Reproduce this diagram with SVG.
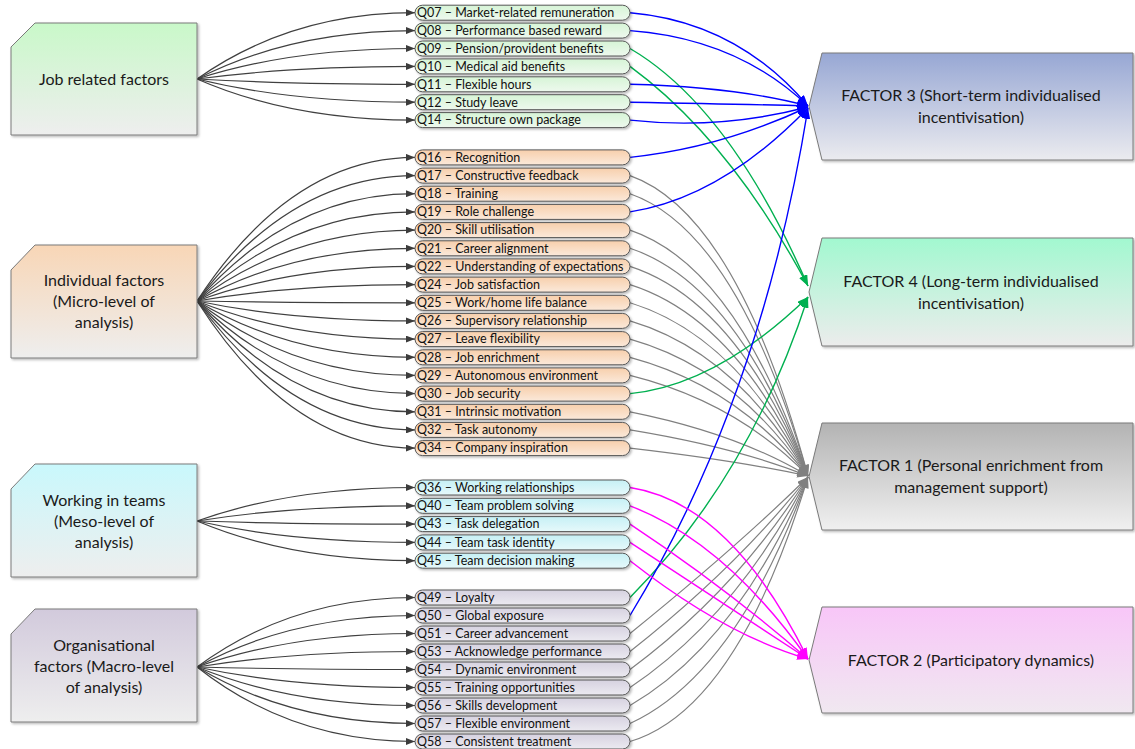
<svg xmlns="http://www.w3.org/2000/svg" width="1135" height="749" viewBox="0 0 1135 749">
<defs>
  <linearGradient id="gJob" x1="0" y1="0" x2="0" y2="1"><stop offset="0" stop-color="#c9f8c9"/><stop offset="1" stop-color="#eeeeee"/></linearGradient>
  <linearGradient id="gInd" x1="0" y1="0" x2="0" y2="1"><stop offset="0" stop-color="#f8d6b6"/><stop offset="1" stop-color="#eeeeee"/></linearGradient>
  <linearGradient id="gTeam" x1="0" y1="0" x2="0" y2="1"><stop offset="0" stop-color="#c9f8fc"/><stop offset="1" stop-color="#eeeeee"/></linearGradient>
  <linearGradient id="gOrg" x1="0" y1="0" x2="0" y2="1"><stop offset="0" stop-color="#d2cadc"/><stop offset="1" stop-color="#eeeeee"/></linearGradient>
  <linearGradient id="pJob" x1="0" y1="0" x2="0" y2="1"><stop offset="0" stop-color="#d6f4d6"/><stop offset="1" stop-color="#eef9ee"/></linearGradient>
  <linearGradient id="pInd" x1="0" y1="0" x2="0" y2="1"><stop offset="0" stop-color="#f7cfac"/><stop offset="1" stop-color="#fbe9da"/></linearGradient>
  <linearGradient id="pTeam" x1="0" y1="0" x2="0" y2="1"><stop offset="0" stop-color="#c6f0f5"/><stop offset="1" stop-color="#e6f9fb"/></linearGradient>
  <linearGradient id="pOrg" x1="0" y1="0" x2="0" y2="1"><stop offset="0" stop-color="#d6d2e0"/><stop offset="1" stop-color="#eceaf1"/></linearGradient>
  <linearGradient id="gF3" x1="0" y1="0" x2="0" y2="1"><stop offset="0" stop-color="#97a7d4"/><stop offset="1" stop-color="#ebebef"/></linearGradient>
  <linearGradient id="gF4" x1="0" y1="0" x2="0" y2="1"><stop offset="0" stop-color="#a2f8d0"/><stop offset="1" stop-color="#ececec"/></linearGradient>
  <linearGradient id="gF1" x1="0" y1="0" x2="0" y2="1"><stop offset="0" stop-color="#b3b3b3"/><stop offset="1" stop-color="#f0f0f0"/></linearGradient>
  <linearGradient id="gF2" x1="0" y1="0" x2="0" y2="1"><stop offset="0" stop-color="#f8c6f8"/><stop offset="1" stop-color="#f0e8f0"/></linearGradient>
  <filter id="sh" x="-5%" y="-20%" width="115%" height="150%">
    <feDropShadow dx="1.5" dy="1.5" stdDeviation="0.8" flood-color="#000" flood-opacity="0.28"/>
  </filter>
  <marker id="mk" markerWidth="9" markerHeight="7" refX="9" refY="3.5" orient="auto" markerUnits="userSpaceOnUse"><path d="M0,0 L9,3.5 L0,7 Z" fill="#3c3c3c"/></marker>
  <marker id="mb" markerWidth="11" markerHeight="8" refX="11" refY="4" orient="auto" markerUnits="userSpaceOnUse"><path d="M0,0 L11,4 L0,8 Z" fill="#0000ff"/></marker>
  <marker id="mg" markerWidth="11" markerHeight="8" refX="11" refY="4" orient="auto" markerUnits="userSpaceOnUse"><path d="M0,0 L11,4 L0,8 Z" fill="#00b050"/></marker>
  <marker id="mr" markerWidth="11" markerHeight="8" refX="11" refY="4" orient="auto" markerUnits="userSpaceOnUse"><path d="M0,0 L11,4 L0,8 Z" fill="#808080"/></marker>
  <marker id="mm" markerWidth="11" markerHeight="8" refX="11" refY="4" orient="auto" markerUnits="userSpaceOnUse"><path d="M0,0 L11,4 L0,8 Z" fill="#ff00ff"/></marker>
</defs>
<style>
  .box{stroke:#7a7a7a;stroke-width:1;filter:url(#sh)}
  .pill{stroke:#575757;stroke-width:1;filter:url(#sh)}
  .qt{font-family:Lato,"Liberation Sans",sans-serif;font-size:12.5px;fill:#111}
  .ct{font-family:Lato,"Liberation Sans",sans-serif;font-size:16px;fill:#1a1a1a;text-anchor:middle}
  .lc{fill:none;stroke:#404040;stroke-width:1.2;marker-end:url(#mk)}
  .cb{fill:none;stroke:#0000ff;stroke-width:1.4;marker-end:url(#mb)}
  .cg{fill:none;stroke:#00b050;stroke-width:1.4;marker-end:url(#mg)}
  .cr{fill:none;stroke:#808080;stroke-width:1.2;marker-end:url(#mr)}
  .cm{fill:none;stroke:#ff00ff;stroke-width:1.4;marker-end:url(#mm)}
</style>

<g id="connectors">
  <!-- category boxes to questionnaire items -->
  <path class="lc" d="M197,79 Q291,12.7 415,12.7"/>
  <path class="lc" d="M197,79 Q291,30.6 415,30.6"/>
  <path class="lc" d="M197,79 Q291,48.5 415,48.5"/>
  <path class="lc" d="M197,79 Q291,66.4 415,66.4"/>
  <path class="lc" d="M197,79 Q291,84.3 415,84.3"/>
  <path class="lc" d="M197,79 Q291,102.2 415,102.2"/>
  <path class="lc" d="M197,79 Q291,120.1 415,120.1"/>

  <path class="lc" d="M197,301 Q291,157.4 415,157.4"/>
  <path class="lc" d="M197,301 Q291,175.6 415,175.6"/>
  <path class="lc" d="M197,301 Q291,193.7 415,193.7"/>
  <path class="lc" d="M197,301 Q291,211.9 415,211.9"/>
  <path class="lc" d="M197,301 Q291,230.1 415,230.1"/>
  <path class="lc" d="M197,301 Q291,248.3 415,248.3"/>
  <path class="lc" d="M197,301 Q291,266.4 415,266.4"/>
  <path class="lc" d="M197,301 Q291,284.6 415,284.6"/>
  <path class="lc" d="M197,301 Q291,302.8 415,302.8"/>
  <path class="lc" d="M197,301 Q291,320.9 415,320.9"/>
  <path class="lc" d="M197,301 Q291,339.1 415,339.1"/>
  <path class="lc" d="M197,301 Q291,357.3 415,357.3"/>
  <path class="lc" d="M197,301 Q291,375.4 415,375.4"/>
  <path class="lc" d="M197,301 Q291,393.6 415,393.6"/>
  <path class="lc" d="M197,301 Q291,411.8 415,411.8"/>
  <path class="lc" d="M197,301 Q291,429.9 415,429.9"/>
  <path class="lc" d="M197,301 Q291,448.1 415,448.1"/>

  <path class="lc" d="M197,521 Q291,487.5 415,487.5"/>
  <path class="lc" d="M197,521 Q291,505.8 415,505.8"/>
  <path class="lc" d="M197,521 Q291,524.1 415,524.1"/>
  <path class="lc" d="M197,521 Q291,542.4 415,542.4"/>
  <path class="lc" d="M197,521 Q291,560.7 415,560.7"/>

  <path class="lc" d="M197,667 Q291,597.5 415,597.5"/>
  <path class="lc" d="M197,667 Q291,615.5 415,615.5"/>
  <path class="lc" d="M197,667 Q291,633.5 415,633.5"/>
  <path class="lc" d="M197,667 Q291,651.5 415,651.5"/>
  <path class="lc" d="M197,667 Q291,669.5 415,669.5"/>
  <path class="lc" d="M197,667 Q291,687.5 415,687.5"/>
  <path class="lc" d="M197,667 Q291,705.5 415,705.5"/>
  <path class="lc" d="M197,667 Q291,723.5 415,723.5"/>
  <path class="lc" d="M197,667 Q291,741.5 415,741.5"/>

  <!-- factor 1 loadings -->
  <path class="cr" d="M630,175.6 Q737,213.5 808,476"/>
  <path class="cr" d="M630,193.7 Q737,231.1 808,476"/>
  <path class="cr" d="M630,230.1 Q737,266.3 808,476"/>
  <path class="cr" d="M630,248.3 Q737,283.8 808,476"/>
  <path class="cr" d="M630,266.4 Q737,301.1 808,476"/>
  <path class="cr" d="M630,284.6 Q737,318.5 808,476"/>
  <path class="cr" d="M630,302.8 Q737,335.6 808,476"/>
  <path class="cr" d="M630,320.9 Q737,352.6 808,476"/>
  <path class="cr" d="M630,339.1 Q737,369.4 808,476"/>
  <path class="cr" d="M630,357.3 Q737,386 808,476"/>
  <path class="cr" d="M630,375.4 Q737,402.1 808,476"/>
  <path class="cr" d="M630,411.8 Q737,433.2 808,476"/>
  <path class="cr" d="M630,429.9 Q737,447.5 808,476"/>
  <path class="cr" d="M630,448.1 Q737,460.5 808,476"/>
  <path class="cr" d="M630,633.5 Q737,546.9 808,477"/>
  <path class="cr" d="M630,651.5 Q737,567.3 808,477"/>
  <path class="cr" d="M630,669.5 Q737,590.2 808,477"/>
  <path class="cr" d="M630,687.5 Q737,615.6 808,477"/>
  <path class="cr" d="M630,705.5 Q737,643.5 808,477"/>
  <path class="cr" d="M630,723.5 Q737,674 808,477"/>
  <path class="cr" d="M630,741.5 Q737,709.6 808,477"/>

  <!-- factor 4 loadings -->
  <path class="cg" d="M630,48.5 Q730,107 808,286"/>
  <path class="cg" d="M630,66.4 Q730,140 808,286"/>
  <path class="cg" d="M630,393.6 Q717,385 808,297"/>
  <path class="cg" d="M630,597.5 Q750,476 808,297"/>

  <!-- factor 3 loadings -->
  <path class="cb" d="M630,12.7 Q737,22 808,106"/>
  <path class="cb" d="M630,30.6 Q737,38.5 808,106"/>
  <path class="cb" d="M630,84.3 Q737,87 808,106"/>
  <path class="cb" d="M630,102.2 Q737,104 808,106"/>
  <path class="cb" d="M630,120.1 Q720,130 808,107"/>
  <path class="cb" d="M630,157.4 Q721,148 808,107"/>
  <path class="cb" d="M630,211.9 Q721,198 808,108"/>
  <path class="cb" d="M630,615.5 Q761,400 808,108"/>

  <!-- factor 2 loadings -->
  <path class="cm" d="M630,487.5 Q731,503 808,659"/>
  <path class="cm" d="M630,505.8 Q725,542 808,659"/>
  <path class="cm" d="M630,524.1 Q725,587 808,659"/>
  <path class="cm" d="M630,542.4 Q719,601 808,659"/>
  <path class="cm" d="M630,560.7 Q725,635 808,659"/>
</g>

<!-- category boxes -->
<g id="cat-job">
  <path class="box" fill="url(#gJob)" d="M11,47 L35,23 L197,23 L197,135 L11,135 Z"/>
  <text class="ct" x="104" y="84.5">Job related factors</text>
</g>
<g id="cat-individual">
  <path class="box" fill="url(#gInd)" d="M11,270 L35,245 L197,245 L197,358 L11,358 Z"/>
  <text class="ct" x="104" y="286">Individual factors</text>
  <text class="ct" x="104" y="307">(Micro-level of</text>
  <text class="ct" x="104" y="328">analysis)</text>
</g>
<g id="cat-teams">
  <path class="box" fill="url(#gTeam)" d="M11,489 L35,464 L197,464 L197,577 L11,577 Z"/>
  <text class="ct" x="104" y="505.5">Working in teams</text>
  <text class="ct" x="104" y="526.5">(Meso-level of</text>
  <text class="ct" x="104" y="547.5">analysis)</text>
</g>
<g id="cat-org">
  <path class="box" fill="url(#gOrg)" d="M11,634 L35,609 L197,609 L197,722 L11,722 Z"/>
  <text class="ct" x="104" y="650.5">Organisational</text>
  <text class="ct" x="104" y="671.5">factors (Macro-level</text>
  <text class="ct" x="104" y="692.5">of analysis)</text>
</g>

<!-- job related items -->
<g id="q07"><rect class="pill" fill="url(#pJob)" x="415" y="5.2" width="215" height="15" rx="7.5"/><text class="qt" x="417" y="17">Q07 – Market-related remuneration</text></g>
<g id="q08"><rect class="pill" fill="url(#pJob)" x="415" y="23.1" width="215" height="15" rx="7.5"/><text class="qt" x="417" y="34.9">Q08 – Performance based reward</text></g>
<g id="q09"><rect class="pill" fill="url(#pJob)" x="415" y="41" width="215" height="15" rx="7.5"/><text class="qt" x="417" y="52.8">Q09 – Pension/provident benefits</text></g>
<g id="q10"><rect class="pill" fill="url(#pJob)" x="415" y="58.9" width="215" height="15" rx="7.5"/><text class="qt" x="417" y="70.7">Q10 – Medical aid benefits</text></g>
<g id="q11"><rect class="pill" fill="url(#pJob)" x="415" y="76.8" width="215" height="15" rx="7.5"/><text class="qt" x="417" y="88.6">Q11 – Flexible hours</text></g>
<g id="q12"><rect class="pill" fill="url(#pJob)" x="415" y="94.7" width="215" height="15" rx="7.5"/><text class="qt" x="417" y="106.5">Q12 – Study leave</text></g>
<g id="q14"><rect class="pill" fill="url(#pJob)" x="415" y="112.6" width="215" height="15" rx="7.5"/><text class="qt" x="417" y="124.4">Q14 – Structure own package</text></g>

<!-- individual items -->
<g id="q16"><rect class="pill" fill="url(#pInd)" x="415" y="149.9" width="215" height="15" rx="7.5"/><text class="qt" x="417" y="161.7">Q16 – Recognition</text></g>
<g id="q17"><rect class="pill" fill="url(#pInd)" x="415" y="168.1" width="215" height="15" rx="7.5"/><text class="qt" x="417" y="179.9">Q17 – Constructive feedback</text></g>
<g id="q18"><rect class="pill" fill="url(#pInd)" x="415" y="186.2" width="215" height="15" rx="7.5"/><text class="qt" x="417" y="198">Q18 – Training</text></g>
<g id="q19"><rect class="pill" fill="url(#pInd)" x="415" y="204.4" width="215" height="15" rx="7.5"/><text class="qt" x="417" y="216.2">Q19 – Role challenge</text></g>
<g id="q20"><rect class="pill" fill="url(#pInd)" x="415" y="222.6" width="215" height="15" rx="7.5"/><text class="qt" x="417" y="234.4">Q20 – Skill utilisation</text></g>
<g id="q21"><rect class="pill" fill="url(#pInd)" x="415" y="240.8" width="215" height="15" rx="7.5"/><text class="qt" x="417" y="252.6">Q21 – Career alignment</text></g>
<g id="q22"><rect class="pill" fill="url(#pInd)" x="415" y="258.9" width="215" height="15" rx="7.5"/><text class="qt" x="417" y="270.7">Q22 – Understanding of expectations</text></g>
<g id="q24"><rect class="pill" fill="url(#pInd)" x="415" y="277.1" width="215" height="15" rx="7.5"/><text class="qt" x="417" y="288.9">Q24 – Job satisfaction</text></g>
<g id="q25"><rect class="pill" fill="url(#pInd)" x="415" y="295.3" width="215" height="15" rx="7.5"/><text class="qt" x="417" y="307.1">Q25 – Work/home life balance</text></g>
<g id="q26"><rect class="pill" fill="url(#pInd)" x="415" y="313.4" width="215" height="15" rx="7.5"/><text class="qt" x="417" y="325.2">Q26 – Supervisory relationship</text></g>
<g id="q27"><rect class="pill" fill="url(#pInd)" x="415" y="331.6" width="215" height="15" rx="7.5"/><text class="qt" x="417" y="343.4">Q27 – Leave flexibility</text></g>
<g id="q28"><rect class="pill" fill="url(#pInd)" x="415" y="349.8" width="215" height="15" rx="7.5"/><text class="qt" x="417" y="361.6">Q28 – Job enrichment</text></g>
<g id="q29"><rect class="pill" fill="url(#pInd)" x="415" y="367.9" width="215" height="15" rx="7.5"/><text class="qt" x="417" y="379.7">Q29 – Autonomous environment</text></g>
<g id="q30"><rect class="pill" fill="url(#pInd)" x="415" y="386.1" width="215" height="15" rx="7.5"/><text class="qt" x="417" y="397.9">Q30 – Job security</text></g>
<g id="q31"><rect class="pill" fill="url(#pInd)" x="415" y="404.3" width="215" height="15" rx="7.5"/><text class="qt" x="417" y="416.1">Q31 – Intrinsic motivation</text></g>
<g id="q32"><rect class="pill" fill="url(#pInd)" x="415" y="422.4" width="215" height="15" rx="7.5"/><text class="qt" x="417" y="434.2">Q32 – Task autonomy</text></g>
<g id="q34"><rect class="pill" fill="url(#pInd)" x="415" y="440.6" width="215" height="15" rx="7.5"/><text class="qt" x="417" y="452.4">Q34 – Company inspiration</text></g>

<!-- team items -->
<g id="q36"><rect class="pill" fill="url(#pTeam)" x="415" y="480" width="215" height="15" rx="7.5"/><text class="qt" x="417" y="491.8">Q36 – Working relationships</text></g>
<g id="q40"><rect class="pill" fill="url(#pTeam)" x="415" y="498.3" width="215" height="15" rx="7.5"/><text class="qt" x="417" y="510.1">Q40 – Team problem solving</text></g>
<g id="q43"><rect class="pill" fill="url(#pTeam)" x="415" y="516.6" width="215" height="15" rx="7.5"/><text class="qt" x="417" y="528.4">Q43 – Task delegation</text></g>
<g id="q44"><rect class="pill" fill="url(#pTeam)" x="415" y="534.9" width="215" height="15" rx="7.5"/><text class="qt" x="417" y="546.7">Q44 – Team task identity</text></g>
<g id="q45"><rect class="pill" fill="url(#pTeam)" x="415" y="553.2" width="215" height="15" rx="7.5"/><text class="qt" x="417" y="565">Q45 – Team decision making</text></g>

<!-- organisational items -->
<g id="q49"><rect class="pill" fill="url(#pOrg)" x="415" y="590" width="215" height="15" rx="7.5"/><text class="qt" x="417" y="601.8">Q49 – Loyalty</text></g>
<g id="q50"><rect class="pill" fill="url(#pOrg)" x="415" y="608" width="215" height="15" rx="7.5"/><text class="qt" x="417" y="619.8">Q50 – Global exposure</text></g>
<g id="q51"><rect class="pill" fill="url(#pOrg)" x="415" y="626" width="215" height="15" rx="7.5"/><text class="qt" x="417" y="637.8">Q51 – Career advancement</text></g>
<g id="q53"><rect class="pill" fill="url(#pOrg)" x="415" y="644" width="215" height="15" rx="7.5"/><text class="qt" x="417" y="655.8">Q53 – Acknowledge performance</text></g>
<g id="q54"><rect class="pill" fill="url(#pOrg)" x="415" y="662" width="215" height="15" rx="7.5"/><text class="qt" x="417" y="673.8">Q54 – Dynamic environment</text></g>
<g id="q55"><rect class="pill" fill="url(#pOrg)" x="415" y="680" width="215" height="15" rx="7.5"/><text class="qt" x="417" y="691.8">Q55 – Training opportunities</text></g>
<g id="q56"><rect class="pill" fill="url(#pOrg)" x="415" y="698" width="215" height="15" rx="7.5"/><text class="qt" x="417" y="709.8">Q56 – Skills development</text></g>
<g id="q57"><rect class="pill" fill="url(#pOrg)" x="415" y="716" width="215" height="15" rx="7.5"/><text class="qt" x="417" y="727.8">Q57 – Flexible environment</text></g>
<g id="q58"><rect class="pill" fill="url(#pOrg)" x="415" y="734" width="215" height="15" rx="7.5"/><text class="qt" x="417" y="745.8">Q58 – Consistent treatment</text></g>

<!-- extracted factors -->
<g id="factor3">
  <path class="box" fill="url(#gF3)" d="M822,53 L1133,53 L1133,160 L822,160 L809,106.5 Z"/>
  <text class="ct" x="971" y="101">FACTOR 3 (Short-term individualised</text>
  <text class="ct" x="971" y="123">incentivisation)</text>
</g>
<g id="factor4">
  <path class="box" fill="url(#gF4)" d="M822,238 L1133,238 L1133,346 L822,346 L809,292 Z"/>
  <text class="ct" x="971" y="286.5">FACTOR 4 (Long-term individualised</text>
  <text class="ct" x="971" y="308.5">incentivisation)</text>
</g>
<g id="factor1">
  <path class="box" fill="url(#gF1)" d="M822,423 L1133,423 L1133,530 L822,530 L809,476.5 Z"/>
  <text class="ct" x="971" y="471">FACTOR 1 (Personal enrichment from</text>
  <text class="ct" x="971" y="493">management support)</text>
</g>
<g id="factor2">
  <path class="box" fill="url(#gF2)" d="M822,607 L1133,607 L1133,713 L822,713 L809,660 Z"/>
  <text class="ct" x="971" y="665.5">FACTOR 2 (Participatory dynamics)</text>
</g>
</svg>
